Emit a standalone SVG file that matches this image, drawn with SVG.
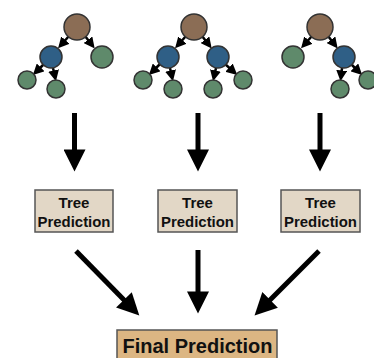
<svg xmlns="http://www.w3.org/2000/svg" width="374" height="358" viewBox="0 0 374 358">
<style>
.root{fill:#8b6d55;stroke:#333;stroke-width:1.5}
.blue{fill:#2f5f86;stroke:#333;stroke-width:1.5}
.leaf{fill:#5f8a6b;stroke:#333;stroke-width:1.5}
.edge{stroke:#000;stroke-width:2.5;fill:none;marker-end:url(#sm)}
.big{stroke:#000;stroke-width:5;fill:none;marker-end:url(#bg)}
.tp{fill:#e2d7c6;stroke:#555;stroke-width:1.5}
.fp{fill:#dcb683;stroke:#555;stroke-width:1.5}
text{font-family:"Liberation Sans",Arial,sans-serif;font-weight:bold;fill:#111;text-anchor:middle}
.t{font-size:15px}
.f{font-size:20px}
</style>
<defs>
<marker id="sm" viewBox="0 0 10 10" refX="6" refY="5" markerWidth="4.4" markerHeight="4.4" orient="auto" markerUnits="strokeWidth"><path d="M0,0 L10,5 L0,10 z" fill="#000"/></marker>
<marker id="bg" viewBox="0 0 10 10" refX="2" refY="5" markerWidth="4.6" markerHeight="4.4" orient="auto" markerUnits="strokeWidth"><path d="M0,0 L10,5 L0,10 z" fill="#000"/></marker>
</defs>
<rect width="374" height="358" fill="#fff"/>
<g id="connectors">
<line class="edge" x1="69" y1="36" x2="61" y2="45"/>
<line class="edge" x1="85" y1="36" x2="92" y2="45"/>
<line class="edge" x1="44" y1="64" x2="36" y2="72"/>
<line class="edge" x1="53" y1="68" x2="55" y2="77"/>
<line class="edge" x1="186" y1="36" x2="178" y2="45"/>
<line class="edge" x1="202" y1="36" x2="209" y2="45"/>
<line class="edge" x1="160" y1="64" x2="152" y2="72"/>
<line class="edge" x1="170" y1="68" x2="172" y2="77"/>
<line class="edge" x1="216" y1="68" x2="214" y2="77"/>
<line class="edge" x1="225" y1="64" x2="234" y2="72"/>
<line class="edge" x1="312" y1="36" x2="304" y2="45"/>
<line class="edge" x1="328" y1="36" x2="335" y2="45"/>
<line class="edge" x1="342" y1="68" x2="341" y2="77"/>
<line class="edge" x1="351" y1="64" x2="359" y2="72"/>
<line class="big" x1="74.5" y1="113" x2="74.5" y2="154"/>
<line class="big" x1="198" y1="113" x2="198" y2="154"/>
<line class="big" x1="320" y1="113" x2="320" y2="154"/>
<line class="big" x1="76" y1="251" x2="127" y2="303"/>
<line class="big" x1="198" y1="250" x2="198" y2="296"/>
<line class="big" x1="319" y1="251" x2="267" y2="303"/>
</g>
<g id="tree1">
<circle class="root" cx="77" cy="27" r="13"/>
<circle class="blue" cx="51" cy="57" r="11"/>
<circle class="leaf" cx="102" cy="57" r="11"/>
<circle class="leaf" cx="27" cy="80" r="9"/>
<circle class="leaf" cx="56" cy="89" r="9"/>
</g>
<g id="tree2">
<circle class="root" cx="194" cy="27" r="13"/>
<circle class="blue" cx="168" cy="57" r="11"/>
<circle class="blue" cx="218" cy="57" r="11"/>
<circle class="leaf" cx="143" cy="80" r="9"/>
<circle class="leaf" cx="173" cy="89" r="9"/>
<circle class="leaf" cx="213" cy="89" r="9"/>
<circle class="leaf" cx="243" cy="80" r="9"/>
</g>
<g id="tree3">
<circle class="root" cx="320" cy="27" r="13"/>
<circle class="leaf" cx="293" cy="57" r="11"/>
<circle class="blue" cx="344" cy="57" r="11"/>
<circle class="leaf" cx="340" cy="89" r="9"/>
<circle class="leaf" cx="368" cy="80" r="9"/>
</g>
<g id="pred1">
<rect class="tp" x="35" y="190" width="78" height="42"/>
<text class="t" x="74" y="208">Tree</text>
<text class="t" x="74" y="226.5" textLength="73" lengthAdjust="spacingAndGlyphs">Prediction</text>
</g>
<g id="pred2">
<rect class="tp" x="158" y="190" width="79" height="42"/>
<text class="t" x="197.5" y="208">Tree</text>
<text class="t" x="197.5" y="226.5" textLength="73" lengthAdjust="spacingAndGlyphs">Prediction</text>
</g>
<g id="pred3">
<rect class="tp" x="281" y="190" width="79" height="42"/>
<text class="t" x="320.5" y="208">Tree</text>
<text class="t" x="320.5" y="226.5" textLength="73" lengthAdjust="spacingAndGlyphs">Prediction</text>
</g>
<g id="final">
<rect class="fp" x="117" y="330" width="160" height="32"/>
<text class="f" x="197.5" y="353" textLength="150" lengthAdjust="spacingAndGlyphs">Final Prediction</text>
</g>
</svg>
